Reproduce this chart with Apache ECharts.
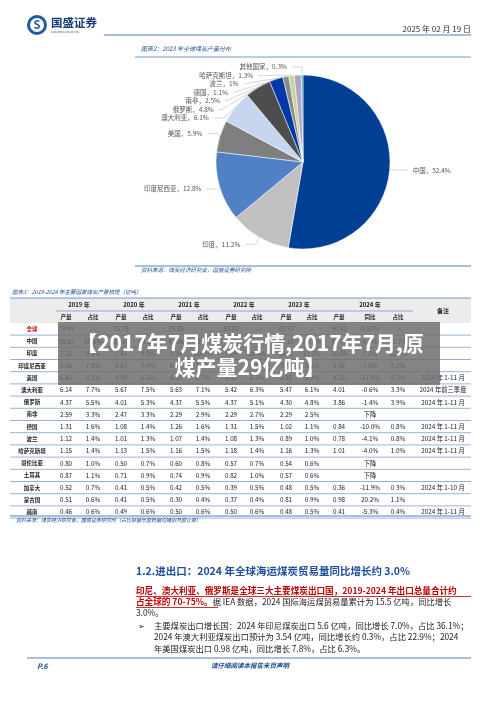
<!DOCTYPE html>
<html><head><meta charset="utf-8">
<script src="https://cdn.jsdelivr.net/npm/echarts@6/dist/echarts.min.js"></script>
<style>html,body{margin:0;padding:0;background:#fff}#c{width:500px;height:707px}</style>
</head><body><div id="c"></div>
<script>
const pieNames=['中国','印度','印度尼西亚','美国','澳大利亚','俄罗斯','南非','德国','波兰','哈萨克斯坦','其他国家'];
const pieValues=[52.4,11.2,12.8,5.9,6.1,4.8,2.5,1.1,1.0,1.3,0.3];
const pieColors=['#003f94','#c0c0c0','#4f81c4','#7f7f7f','#c6d6ee','#4d4d4d','#0038a8','#8a8a8a','#c3d69b','#b2a2c7','#4bacc6'];
const years=['2019 年','2020 年','2021 年','2022 年','2023 年','2024 年'];
const subHeads=['产量','占比','产量','占比','产量','占比','产量','占比','产量','占比','产量','同比','占比'];
const rowNames=['全球','中国','印度','印度尼西亚','美国','澳大利亚','俄罗斯','南非','德国','波兰','哈萨克斯坦','哥伦比亚','土耳其','加拿大','蒙古国','越南'];
const rowValues=[
['79.44','—','75.75','—','78.85','—','83.81','—','89.93','—','90.60','0.80%','—',''],
['38.50','48.5%','39.02','51.5%','41.26','52.4%','45.60','54.4%','47.10','52.4%','47.76','4.8%','52.7%',''],
['7.32','9.2%','7.41','9.8%','8.04','10.2%','9.09','10.6%','10.11','11.2%','10.84','7.2%','12.0%',''],
['6.16','7.8%','5.63','7.4%','6.14','7.8%','6.87','8.2%','7.75','8.6%','8.36','7.8%','9.2%',''],
['6.40','8.1%','4.89','6.5%','5.25','6.7%','5.42','6.3%','5.28','5.9%','4.25','-11.9%','4.3%','2024 年 1-11 月'],
['6.14','7.7%','5.67','7.5%','5.63','7.1%','5.42','6.3%','5.47','6.1%','4.01','-0.6%','3.3%','2024 年前三季度'],
['4.37','5.5%','4.01','5.3%','4.37','5.5%','4.37','5.1%','4.30','4.8%','3.86','-1.4%','3.9%','2024 年 1-11 月'],
['2.59','3.3%','2.47','3.3%','2.29','2.9%','2.29','2.7%','2.29','2.5%','','下降','',''],
['1.31','1.6%','1.08','1.4%','1.26','1.6%','1.31','1.5%','1.02','1.1%','0.84','-10.0%','0.8%','2024 年 1-11 月'],
['1.12','1.4%','1.01','1.3%','1.07','1.4%','1.08','1.3%','0.89','1.0%','0.78','-4.1%','0.8%','2024 年 1-11 月'],
['1.15','1.4%','1.13','1.5%','1.16','1.5%','1.18','1.4%','1.16','1.3%','1.01','-4.0%','1.0%','2024 年 1-11 月'],
['0.80','1.0%','0.50','0.7%','0.60','0.8%','0.57','0.7%','0.54','0.6%','','下降','',''],
['0.87','1.1%','0.71','0.9%','0.74','0.9%','0.82','1.0%','0.57','0.6%','','下降','',''],
['0.52','0.7%','0.41','0.5%','0.42','0.5%','0.39','0.5%','0.48','0.5%','0.36','-11.9%','0.3%','2024 年 1-10 月'],
['0.51','0.6%','0.41','0.5%','0.30','0.4%','0.37','0.4%','0.81','0.9%','0.98','20.2%','1.1%',''],
['0.46','0.6%','0.49','0.6%','0.50','0.6%','0.50','0.6%','0.48','0.5%','0.41','-5.3%','0.4%','2024 年 1-11 月']];

const F='"Noto Sans CJK SC","Noto Sans",sans-serif';
const colX=[66,93,121,148,176,203,231,257,286,312,339,370,398,443];
const yearX=[79,134,189,244,299,370];
const g=[];
function T(x,y,s,o){g.push({type:'text',x:x,y:y,style:Object.assign({text:s,font:'6px '+F,fill:'#222',align:'center',verticalAlign:'middle'},o||{})});}
function L(x1,y1,x2,y2,c,w){g.push({type:'line',shape:{x1,y1,x2,y2},style:{stroke:c||'#4f81bd',lineWidth:w||1}});}
function R(x,y,w,h,c){g.push({type:'rect',shape:{x,y,width:w,height:h},style:{fill:c}});}
g.push({type:'circle',shape:{cx:37,cy:25,r:8.5},style:{fill:'none',stroke:'#1e5aa8',lineWidth:3}});
T(37,25,'S',{font:'bold 11px '+F,fill:'#1e5aa8'});
T(51,23,'国盛证券',{font:'bold 11.5px '+F,fill:'#1a3d78',align:'left'});
T(51,32,'GUOSHENG SECURITIES',{font:'2.5px '+F,fill:'#555',align:'left'});
T(471,29,'2025 年 02 月 19 日',{font:'8px '+F,fill:'#333',align:'right'});
L(104,35,471,35,'#4f81bd',1);
T(141,49,'图表2：2023 年全球煤炭产量分布',{font:'italic 6px '+F,fill:'#1f4e8c',align:'left'});
L(135,57,471,57,'#4f81bd',0.8);
L(135,266,471,266,'#4f81bd',1.2);
T(141,270,'资料来源：煤炭经济研究会，国盛证券研究所',{font:'italic 5.5px '+F,fill:'#1f4e8c',align:'left'});
T(12,292,'图表3：2019-2024 年主要国家煤炭产量梳理（亿吨）',{font:'italic 5.5px '+F,fill:'#1f4e8c',align:'left'});
R(10,298,461,25,'#ececec');
L(10,298,471,298,'#4f81bd',0.8);
L(56,311,413,311,'#4f81bd',0.6);
years.forEach((y,i)=>T(yearX[i],305,y,{font:'bold 6px '+F}));
subHeads.forEach((s,i)=>T(colX[i],317,s,{font:'bold 5.5px '+F}));
T(443,311,'备注',{font:'bold 6px '+F});
const y0=329,dy=12.2;
rowNames.forEach((n,r)=>{const y=y0+r*dy;
 T(32,y,n,{font:'bold 5.5px '+F,fill:r===0?'#c00000':'#222'});
 rowValues[r].forEach((v,c)=>T(colX[c],y,v,{font:'6.3px '+F,fill:r===0?'#c00000':'#222'}));
 L(10,y+6.1,471,y+6.1,'#4f81bd',0.6);
});
L(10,516,471,516,'#4f81bd',1);
T(16,520,'资料来源：煤炭经济研究会，国盛证券研究所（占比根据年度数据均摊到月度计算）',{font:'italic 5px '+F,fill:'#1f4e8c',align:'left'});
R(58,322,382,63,'rgba(110,110,110,0.85)');
T(250,343,'【2017年7月煤炭行情,2017年7月,原',{font:'bold 21px '+F,fill:'#fff'});
T(250,367,'煤产量29亿吨】',{font:'bold 21px '+F,fill:'#fff'});
T(136,571,'1.2.进出口：2024 年全球海运煤炭贸易量同比增长约 3.0%',{font:'bold 10.5px '+F,fill:'#1f4e9c',align:'left'});
T(136,591,'印尼、澳大利亚、俄罗斯是全球三大主要煤炭出口国，2019-2024 年出口总量合计约',{font:'bold 8.6px '+F,fill:'#c00000',align:'left'});
L(136,596.5,471,596.5,'#c00000',0.8);
g.push({type:'text',x:136,y:602,style:{text:'{r|占全球的 70-75%。}{b|据 IEA 数据，2024 国际海运煤贸易量累计为 15.5 亿吨，同比增长}',verticalAlign:'middle',
 rich:{r:{font:'bold 8.6px '+F,fill:'#c00000'},b:{font:'8.3px '+F,fill:'#222'}}}});
L(136,607.5,218,607.5,'#c00000',0.8);
T(136,613,'3.0%。',{font:'8.3px '+F,fill:'#222',align:'left'});
T(138,626,'➢',{font:'8px '+F,fill:'#222',align:'left'});
T(154,626,'主要煤炭出口增长国：2024 年印尼煤炭出口 5.6 亿吨，同比增长 7.0%，占比 36.1%；',{font:'8.3px '+F,fill:'#222',align:'left'});
T(154,637,'2024 年澳大利亚煤炭出口预计为 3.54 亿吨，同比增长约 0.3%，占比 22.9%；2024',{font:'8.3px '+F,fill:'#222',align:'left'});
T(154,649,'年美国煤炭出口 0.98 亿吨，同比增长 7.8%，占比 6.3%。',{font:'8.3px '+F,fill:'#222',align:'left'});
L(27,658,471,658,'#4f81bd',1);
T(37,666,'P.6',{font:'bold italic 7.5px '+F,fill:'#1f4e8c',align:'left'});
T(250,666,'请仔细阅读本报告末页声明',{font:'bold italic 6.5px '+F,fill:'#1f4e8c'});

const chart=echarts.init(document.getElementById('c'));
chart.setOption({animation:false,graphic:{elements:g},
 series:[{type:'pie',center:[303,162],radius:87,startAngle:90,clockwise:true,
  data:pieNames.map((n,i)=>({name:n,value:pieValues[i],itemStyle:{color:pieColors[i]}})),
  itemStyle:{borderColor:'#fff',borderWidth:0.5},
  label:{formatter:'{b}，{c}%',fontSize:6.5,color:'#555',fontFamily:F},
  labelLine:{length:8,length2:10,lineStyle:{color:'#bbb',width:0.6}}}]});
</script></body></html>
